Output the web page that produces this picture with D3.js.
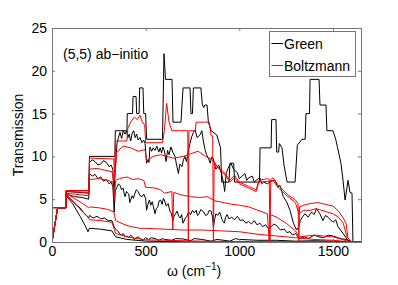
<!DOCTYPE html>
<html>
<head>
<meta charset="utf-8">
<script src="https://cdn.jsdelivr.net/npm/d3@7"></script>
<style>
  body { margin: 0; background: #fff; }
  text { font-family: "Liberation Sans", Arial, sans-serif; }
</style>
</head>
<body>
<div class="canva"></div>
<script>
// tick values
const omegaTicks = [0, 500, 1000, 1500];
const transTicks = [0, 5, 10, 15, 20, 25];
const legendNames = ['Green', 'Boltzmann'];

// Green (black) curves, [omega, transmission]
const greenA = [[0,4],[75,4],[75,6],[198,6],[200,10],[336,10],[338,13],[400,13],[402,15],[430,15],[433,17],[449,17],[452,15],[465,15],[468,18],[486,18],[490,15],[500,15],[505,12],[590,12],[598,22],[606,19],[641,19],[646,14],[689,14],[694,16],[700,18],[737,18],[742,15],[750,15],[755,18],[795,18],[803,16],[810,15.7],[816,16],[828,16],[835,14],[850,13],[880,12.5],[900,11],[906,7],[945,7],[950,9.2],[970,9.2],[975,7],[1108,7],[1111,11],[1170,11],[1173,14.3],[1196,14.3],[1200,10.5],[1210,10.5],[1214,11.5],[1228,11],[1239,9],[1255,7],[1298,7],[1310,11.3],[1335,12],[1352,12],[1356,15],[1375,15],[1378,19],[1426,19],[1431,16],[1463,16],[1468,13],[1500,13],[1515,12],[1525,11],[1543,9.2],[1554,7.2],[1565,4.9],[1581,7.2],[1591,5.8],[1602,5.7],[1607,0],[1650,0]];
const greenB = [[0,0],[30,4],[75,4],[75,5.9],[140,5.8],[196,5.7],[200,9.3],[215,9.6],[230,9.4],[245,9.0],[260,9.1],[275,9.5],[290,9.3],[305,8.8],[315,9],[325,8.5],[330,5.3],[336,8],[347,11.5],[355,12.2],[363,12.8],[372,12.1],[380,13],[390,12.6],[398,13],[405,12.2],[412,12.6],[420,11.8],[428,12.7],[436,13],[444,12.2],[452,12.6],[460,11.9],[470,12.2],[480,11.6],[490,11.9],[497,11.5],[505,9.2],[512,9.6],[518,9.3],[523,11.1],[532,10.6],[540,11],[550,10.7],[560,11.2],[570,10.5],[578,11],[585,10.4],[592,11.1],[600,10.7],[609,9.4],[617,10.7],[625,10.2],[635,11.1],[645,10.5],[657,10],[665,9],[675,8],[683,9.1],[694,8.8],[702,9.6],[710,10],[718,9.4],[728,10.7],[737,11.5],[746,12.3],[755,12.8],[764,13.1],[775,12.2],[790,12.5],[800,13],[808,11.8],[817,10.8],[825,10.2],[835,9.8],[845,9.2],[852,9.9],[860,9.8],[875,8.5],[890,9],[905,8],[915,7],[922,5.9],[930,8],[940,8.6],[955,9.2],[970,8.5],[990,8.1],[1000,7.4],[1010,7.6],[1030,8],[1040,7.2],[1050,7.5],[1070,7.7],[1080,7.0],[1090,7.2],[1110,7.5],[1120,6.8],[1130,7],[1150,6.8],[1170,7.1],[1191,7.2],[1205,6.4],[1218,6.6],[1235,5.3],[1253,4.7],[1271,3.7],[1289,2.2],[1306,1.4],[1318,1.8],[1326,2.5],[1340,3.0],[1351,3.3],[1368,2.9],[1386,3.5],[1400,3.2],[1412,3.9],[1430,3.3],[1447,2.5],[1460,3.1],[1474,2.9],[1500,2.3],[1515,2.6],[1527,1.8],[1554,1.0],[1580,0.2],[1600,0],[1650,0]];
const greenC = [[0,0],[30,4],[75,4],[75,5.6],[120,5.3],[160,5.2],[196,5],[200,8],[215,7.7],[230,7.9],[245,7.4],[260,7.6],[275,7.1],[290,7.3],[305,6.8],[315,7],[325,6.5],[332,3.5],[338,6],[347,6.4],[355,6.8],[363,6.6],[372,6.1],[380,6.3],[386,5.6],[390,5.3],[398,5.9],[405,5.7],[410,5.6],[415,4.6],[420,4.9],[428,5.4],[435,5.1],[440,5.5],[450,6.1],[460,5.9],[470,5.4],[480,5.3],[490,5.6],[500,5.1],[505,3.7],[512,4.4],[520,4.9],[527,4.3],[535,4.7],[542,4.1],[550,3.3],[557,3.9],[565,4.1],[572,4.8],[580,4.9],[588,4.4],[595,5.1],[600,4.9],[610,4.2],[620,4.5],[630,3.6],[638,3.3],[645,2.5],[652,3],[660,3.3],[668,3.6],[677,3],[685,2.8],[692,3.2],[700,2.2],[710,2.7],[720,3],[730,3.5],[740,3.2],[750,3.7],[760,3.4],[770,3.7],[777,3.1],[785,3.3],[795,3.8],[810,3.5],[820,3.1],[830,3.2],[840,3.7],[850,3.6],[857,2.9],[862,1.7],[868,2.6],[875,3.3],[885,3.1],[895,3.5],[903,3],[910,2.5],[920,2.2],[927,2.9],[935,3.2],[945,2.7],[960,2.9],[975,2.6],[990,3],[1005,2.5],[1020,2.6],[1035,2.2],[1050,2.4],[1065,2.1],[1080,2.5],[1095,2],[1110,2.2],[1125,1.8],[1140,2],[1155,1.6],[1170,1.8],[1185,2.1],[1200,1.9],[1220,1.4],[1240,1.5],[1255,1.1],[1270,1.2],[1285,0.8],[1300,1.0],[1320,0.4],[1350,0.6],[1370,0.4],[1400,0.8],[1425,0.6],[1450,0.5],[1475,0.8],[1500,0.7],[1540,0.4],[1570,0.3],[1600,0],[1650,0]];
const greenD = [[0,0],[30,4],[75,4],[75,5.5],[100,5],[130,4.3],[150,4],[170,3.4],[185,3.1],[196,2.8],[200,3.1],[220,2.8],[240,3.0],[260,2.7],[280,2.8],[300,2.5],[320,2.5],[335,1.6],[345,1.4],[355,1.2],[360,1.0],[370,0.8],[380,1.0],[390,0.6],[400,0.7],[410,0.5],[420,0.8],[430,0.6],[440,0.3],[450,0.5],[460,0.6],[470,0.4],[485,0.2],[500,0.5],[515,0.3],[530,0.5],[550,0.4],[570,0.2],[590,0.4],[600,0.3],[640,0.2],[660,0.4],[700,0.35],[740,0.15],[760,0.4],[800,0.3],[850,0.1],[880,0.3],[900,0.25],[950,0.1],[980,0.4],[1000,0.3],[1100,0.2],[1200,0.2],[1300,0.1],[1400,0.15],[1500,0.1],[1600,0],[1650,0]];
const greenE = [[0,0],[30,4],[75,4],[75,5.4],[110,4.5],[150,3],[175,2],[192,1.2],[200,1.6],[260,1.5],[320,1.3],[340,0.6],[400,0.3],[500,0.1],[600,0.05],[800,0],[1650,0]];

// Boltzmann (red) curves, [omega, transmission]
const boltzA = [[0,4],[75,4],[75,6],[198,6],[200,9.8],[330,9.7],[334,7.6],[338,11.8],[400,11.8],[405,13.3],[420,14],[440,14.6],[455,14.3],[470,14.8],[482,14],[495,13.7],[500,11.6],[590,11.6],[600,13],[612,16.2],[625,14],[640,13],[725,13],[728,0],[731,13],[765,13],[770,14],[840,14],[850,12.4],[858,12.4],[862,0],[866,9.4],[880,8.8],[905,8.4],[925,8],[950,7.2],[975,7.8],[1000,7],[1050,6.5],[1090,6.1],[1105,7.2],[1150,7.4],[1160,7.3],[1164,0],[1168,7.3],[1180,7.5],[1210,6.6],[1260,5.5],[1300,4.9],[1314,4.5],[1318,0],[1322,4.1],[1345,4.3],[1380,4.5],[1420,4.6],[1460,4.4],[1500,4.2],[1530,3.6],[1555,2.8],[1570,2.2],[1580,0.5],[1600,0],[1650,0]];
const boltzB = [[0,0],[30,4],[75,4],[75,5.9],[196,5.8],[200,8.5],[240,8.6],[280,8.4],[320,8.2],[330,7],[336,7.6],[345,10.5],[380,11.2],[420,11],[460,10.6],[497,10.8],[505,9.5],[540,10],[580,10.2],[610,10],[650,9.8],[700,10],[740,10.3],[780,10.6],[820,10],[855,9.6],[870,9.2],[905,8.2],[925,7.8],[950,7],[975,7.5],[1000,6.8],[1050,6.3],[1090,5.9],[1105,7],[1160,7.1],[1180,7.2],[1210,6.3],[1260,5.3],[1300,4.6],[1318,3.3],[1345,3.7],[1380,3.7],[1410,3.9],[1440,3.7],[1470,3.5],[1500,3.3],[1530,2.9],[1555,2.2],[1575,0.6],[1600,0],[1650,0]];
const boltzC = [[0,0],[30,4],[75,4],[75,5.7],[196,5.4],[200,7.3],[250,7.4],[300,7.2],[325,7],[332,5],[340,7.2],[360,7.4],[400,7.6],[430,7.3],[460,7.4],[490,7.2],[500,6.4],[550,6.3],[580,6.1],[600,5.7],[640,5.9],[645,1.5],[650,5.8],[690,5.5],[740,5.3],[790,5.2],[830,5.3],[870,4.8],[920,4.6],[960,4.4],[1000,4.3],[1050,4.1],[1100,3.7],[1150,3.3],[1160,0],[1165,3.2],[1200,2.9],[1250,2.2],[1300,1.3],[1320,0.6],[1400,0.8],[1450,0.7],[1500,0.6],[1550,0.3],[1590,0],[1650,0]];
const boltzD = [[0,0],[30,4],[75,4],[75,5.7],[110,5.2],[150,4.7],[196,4],[200,4.1],[250,4],[300,3.8],[330,3.5],[340,2.5],[380,2.1],[420,1.8],[470,1.6],[500,1.6],[600,1.5],[700,1.4],[800,1.4],[900,1.3],[1000,1.2],[1100,0.9],[1200,0.7],[1300,0.5],[1400,0.3],[1500,0.2],[1600,0],[1650,0]];
const boltzE = [[0,0],[30,4],[75,4],[75,5.6],[120,4.6],[160,3.6],[196,2.8],[200,2.6],[260,2.5],[320,2.3],[340,1.0],[400,0.6],[500,0.25],[600,0.2],[700,0.15],[800,0.1],[1000,0.05],[1200,0],[1650,0]];

const greenSeries = [greenA, greenB, greenC, greenD, greenE];
const boltzSeries = [boltzA, boltzB, boltzC, boltzD, boltzE];

const width = 398, height = 285;
const margin = { top: 28, right: 37, bottom: 43, left: 52 };
const axisColor = '#777';

const svg = d3.select('.canva').append('svg')
  .attr('width', width)
  .attr('height', height);

const x = d3.scaleLinear().domain([0, 1650]).range([margin.left, width - margin.right]);
const y = d3.scaleLinear().domain([0, 25]).range([height - margin.bottom, margin.top]);

svg.append('clipPath').attr('id', 'plot')
  .append('rect')
  .attr('x', x(0)).attr('y', y(25))
  .attr('width', x(1650) - x(0)).attr('height', y(0) - y(25));

const line = d3.line().x(d => x(d[0])).y(d => y(d[1]));

const curves = svg.append('g').attr('clip-path', 'url(#plot)');
curves.selectAll('path.green')
  .data(greenSeries)
  .enter().append('path')
  .attr('class', 'green')
  .attr('fill', 'none')
  .attr('stroke', '#000')
  .attr('stroke-width', 1)
  .attr('d', line);
curves.selectAll('path.boltz')
  .data(boltzSeries)
  .enter().append('path')
  .attr('class', 'boltz')
  .attr('fill', 'none')
  .attr('stroke', '#ff0000')
  .attr('stroke-width', 1)
  .attr('d', line);

// axes, matlab style: box with inward ticks
function styleAxis(g) {
  g.select('.domain').remove();
  g.selectAll('.tick line').attr('stroke', axisColor);
  g.selectAll('.tick text').attr('fill', '#000').attr('font-size', 14)
    .style('font-family', '"Liberation Sans", Arial, sans-serif');
}
svg.append('g').attr('transform', `translate(0,${y(0)})`)
  .call(d3.axisBottom(x).tickValues(omegaTicks).tickFormat(d3.format('d'))
    .tickSizeInner(-3).tickSizeOuter(0).tickPadding(4))
  .call(styleAxis);
svg.append('g').attr('transform', `translate(0,${y(25)})`)
  .call(d3.axisTop(x).tickValues(omegaTicks).tickSizeInner(-3).tickSizeOuter(0).tickFormat(''))
  .call(styleAxis);
svg.append('g').attr('transform', `translate(${x(0)},0)`)
  .call(d3.axisLeft(y).tickValues(transTicks).tickSizeInner(-3).tickSizeOuter(0).tickPadding(5))
  .call(styleAxis);
svg.append('g').attr('transform', `translate(${x(1650)},0)`)
  .call(d3.axisRight(y).tickValues(transTicks).tickSizeInner(-3).tickSizeOuter(0).tickFormat(''))
  .call(styleAxis);

svg.append('rect')
  .attr('x', x(0) + 0.5).attr('y', y(25) + 0.5)
  .attr('width', x(1650) - x(0)).attr('height', y(0) - y(25))
  .attr('fill', 'none').attr('stroke', axisColor);

// labels
svg.append('text')
  .attr('transform', `translate(23,${(y(0) + y(25)) / 2}) rotate(-90)`)
  .attr('text-anchor', 'middle')
  .attr('font-size', 14)
  .text('Transmission');

const xl = svg.append('text').attr('x', 167).attr('y', 276).attr('font-size', 14);
xl.append('tspan').text('ω (cm');
xl.append('tspan').attr('dy', -6).attr('font-size', 10).text('−1');
xl.append('tspan').attr('dy', 6).text(')');

svg.append('text')
  .attr('x', 63).attr('y', 59)
  .attr('font-size', 14)
  .text('(5,5) ab−initio');

// legend
const legend = svg.append('g');
legend.append('rect')
  .attr('x', 269.5).attr('y', 31.5).attr('width', 86).attr('height', 45)
  .attr('fill', '#fff').attr('stroke', axisColor);
legendNames.forEach((name, i) => {
  const ly = 43.5 + i * 22;
  legend.append('line')
    .attr('x1', 271.5).attr('x2', 283).attr('y1', ly).attr('y2', ly)
    .attr('stroke', i === 0 ? '#000' : '#ff0000');
  legend.append('text')
    .attr('x', 284).attr('y', ly + 5)
    .attr('font-size', 14)
    .text(name);
});
</script>
</body>
</html>
